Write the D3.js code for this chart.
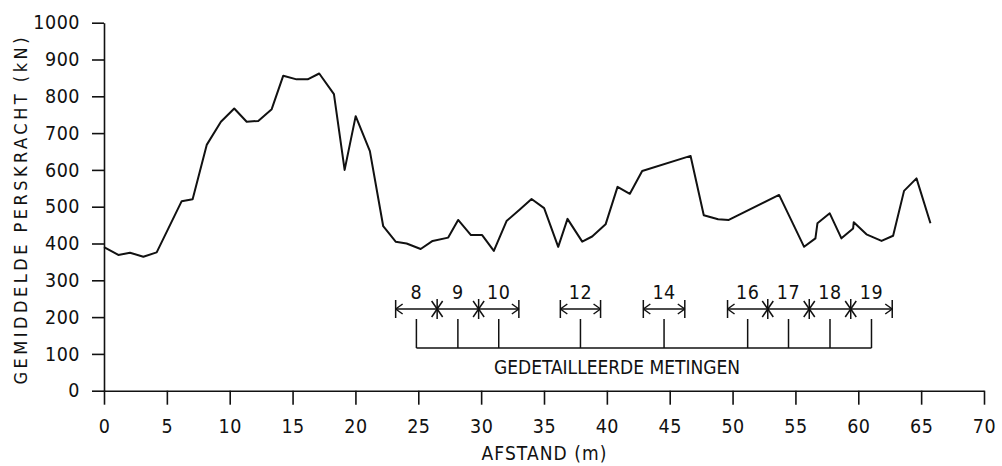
<!DOCTYPE html>
<html>
<head>
<meta charset="utf-8">
<script src="https://cdn.jsdelivr.net/npm/d3@7"></script>
<style>
  body { margin: 0; background: #fff; }
  svg { display: block; }
  text { font-family: "Liberation Sans Narrow", "DejaVu Sans Condensed", "Liberation Sans", sans-serif; fill: #111; }
  .axis path, .axis line { stroke: #111; stroke-width: 1.6; }
  .axis text { font-size: 19.5px; letter-spacing: 0.5px; }
  .meetlijn { fill: none; stroke: #111; stroke-width: 2; stroke-linejoin: round; }
  .ann line { stroke: #111; stroke-width: 1.5; }
</style>
</head>
<body>
<div id="grafiek"></div>
<script>
// afstand (m) en gemiddelde perskracht (kN)
var afstand = [0.0, 1.14, 2.07, 3.13, 4.19, 6.18, 7.05, 8.17, 9.30, 10.36, 11.35, 12.27, 13.34,
  14.26, 15.32, 16.20, 17.12, 18.29, 19.14, 20.02, 21.15, 22.21, 23.2, 24.07, 25.19, 26.14,
  27.38, 28.17, 29.19, 30.08, 31.01, 32.02, 33.03, 34.01, 35.01, 36.13, 36.87, 38.04, 38.83,
  39.90, 40.85, 41.83, 42.81, 46.66, 47.71, 48.85, 49.70, 53.70, 55.69, 56.59, 56.75, 57.73,
  58.66, 59.59, 59.64, 60.65, 61.85, 62.77, 63.64, 64.63, 65.74];
var perskracht = [390, 369, 375, 364, 376, 515, 520, 668, 731, 767, 731, 733, 765,
  856, 846, 846, 862, 806, 600, 746, 651, 447, 405, 400, 385, 407,
  416, 464, 423, 423, 380, 461, 491, 521, 496, 391, 467, 405, 419,
  452, 554, 535, 597, 638, 477, 466, 464, 532, 391, 414, 455, 482,
  414, 441, 458, 425, 407, 421, 543, 577, 455];

var x_tick_values = [0, 5, 10, 15, 20, 25, 30, 35, 40, 45, 50, 55, 60, 65, 70];
var y_tick_values = [0, 100, 200, 300, 400, 500, 600, 700, 800, 900, 1000];

// gedetailleerde metingen: nummer, begin en einde (m)
var meting_labels = ["8", "9", "10", "12", "14", "16", "17", "18", "19"];
var meting_start = [23.2, 26.5, 29.8, 36.3, 42.9, 49.6, 52.8, 56.1, 59.4];
var meting_stop = [26.5, 29.8, 33.0, 39.5, 46.2, 52.8, 56.1, 59.4, 62.7];

var y_title = "GEMIDDELDE  PERSKRACHT  (kN)";
var x_title = "AFSTAND  (m)";
var meting_title = "GEDETAILLEERDE  METINGEN";

var teken_grafiek = function() {
  var width = 1002;
  var height = 466;
  var margin = { top: 22.7, right: 18, bottom: 75.3, left: 104 };
  var plot_width = width - margin.left - margin.right;
  var plot_height = height - margin.top - margin.bottom;

  var svg = d3.select("#grafiek").append("svg")
      .attr("width", width)
      .attr("height", height);

  var g = svg.append("g")
      .attr("transform", "translate(" + margin.left + "," + margin.top + ")");

  var x = d3.scaleLinear().domain([0, 70]).range([0, plot_width]);
  var y = d3.scaleLinear().domain([0, 1000]).range([plot_height, 0]);

  // *** ASSEN *** //

  g.append("g")
      .attr("class", "axis")
      .call(d3.axisLeft(y).tickValues(y_tick_values).tickFormat(d3.format("d"))
        .tickSize(12).tickSizeOuter(0).tickPadding(12));

  g.append("g")
      .attr("class", "axis")
      .attr("transform", "translate(0," + plot_height + ")")
      .call(d3.axisBottom(x).tickValues(x_tick_values).tickFormat(d3.format("d"))
        .tickSize(14).tickSizeOuter(0).tickPadding(14));

  g.append("text")
      .attr("transform", "translate(" + (27 - margin.left) + "," + (211 - margin.top) + ") rotate(-90)")
      .attr("text-anchor", "middle")
      .attr("font-size", 18)
      .attr("textLength", 347)
      .attr("lengthAdjust", "spacing")
      .text(y_title);

  g.append("text")
      .attr("x", x(35))
      .attr("y", 460 - margin.top)
      .attr("text-anchor", "middle")
      .attr("font-size", 19)
      .attr("textLength", 125)
      .attr("lengthAdjust", "spacing")
      .text(x_title);

  // *** MEETLIJN *** //

  var punten = afstand.map(function(a, i) { return [a, perskracht[i]]; });

  g.append("path")
      .datum(punten)
      .attr("class", "meetlijn")
      .attr("d", d3.line().x(function(d) { return x(d[0]); }).y(function(d) { return y(d[1]); }));

  // *** GEDETAILLEERDE METINGEN *** //

  var ann = g.append("g").attr("class", "ann");
  var arrow_y = 309 - margin.top;
  var stem_top = 319 - margin.top;
  var base_y = 348 - margin.top;
  var label_y = 299.5 - margin.top;

  var lijn = function(x1, y1, x2, y2) {
    ann.append("line").attr("x1", x1).attr("y1", y1).attr("x2", x2).attr("y2", y2);
  }

  var ster = function(px) {
    lijn(px, arrow_y - 10, px, arrow_y + 10);
    lijn(px - 5.5, arrow_y - 8, px + 5.5, arrow_y + 8);
    lijn(px - 5.5, arrow_y + 8, px + 5.5, arrow_y - 8);
  }

  var pijl_eind = function(px, richting) {
    // richting -1: pijl naar links, 1: pijl naar rechts
    lijn(px, arrow_y - 9, px, arrow_y + 9);
    lijn(px, arrow_y, px - richting * 7, arrow_y - 5);
    lijn(px, arrow_y, px - richting * 7, arrow_y + 5);
  }

  var stems = [];
  for (var i = 0 ; i < meting_labels.length ; i++) {
    var x1 = x(meting_start[i]);
    var x2 = x(meting_stop[i]);
    var mid = (x1 + x2) / 2;
    stems.push(mid);

    lijn(x1, arrow_y, x2, arrow_y);
    lijn(mid, stem_top, mid, base_y);

    ann.append("text")
        .attr("x", mid)
        .attr("y", label_y)
        .attr("text-anchor", "middle")
        .attr("font-size", 19.5)
        .attr("letter-spacing", 0.5)
        .text(meting_labels[i]);

    // begin: ster als vorige meting hier eindigt, anders pijl
    var begin_gedeeld = i > 0 && meting_stop[i - 1] === meting_start[i];
    if (begin_gedeeld) {
      ster(x1);
    } else {
      pijl_eind(x1, -1);
    }

    var eind_gedeeld = i < meting_labels.length - 1 && meting_start[i + 1] === meting_stop[i];
    if (!eind_gedeeld) {
      pijl_eind(x2, 1);
    }
  }

  lijn(d3.min(stems), base_y, d3.max(stems), base_y);

  ann.append("text")
      .attr("x", 617 - margin.left)
      .attr("y", 374 - margin.top)
      .attr("text-anchor", "middle")
      .attr("font-size", 19)
      .attr("textLength", 246)
      .attr("lengthAdjust", "spacing")
      .text(meting_title);
}

teken_grafiek();
</script>
</body>
</html>
